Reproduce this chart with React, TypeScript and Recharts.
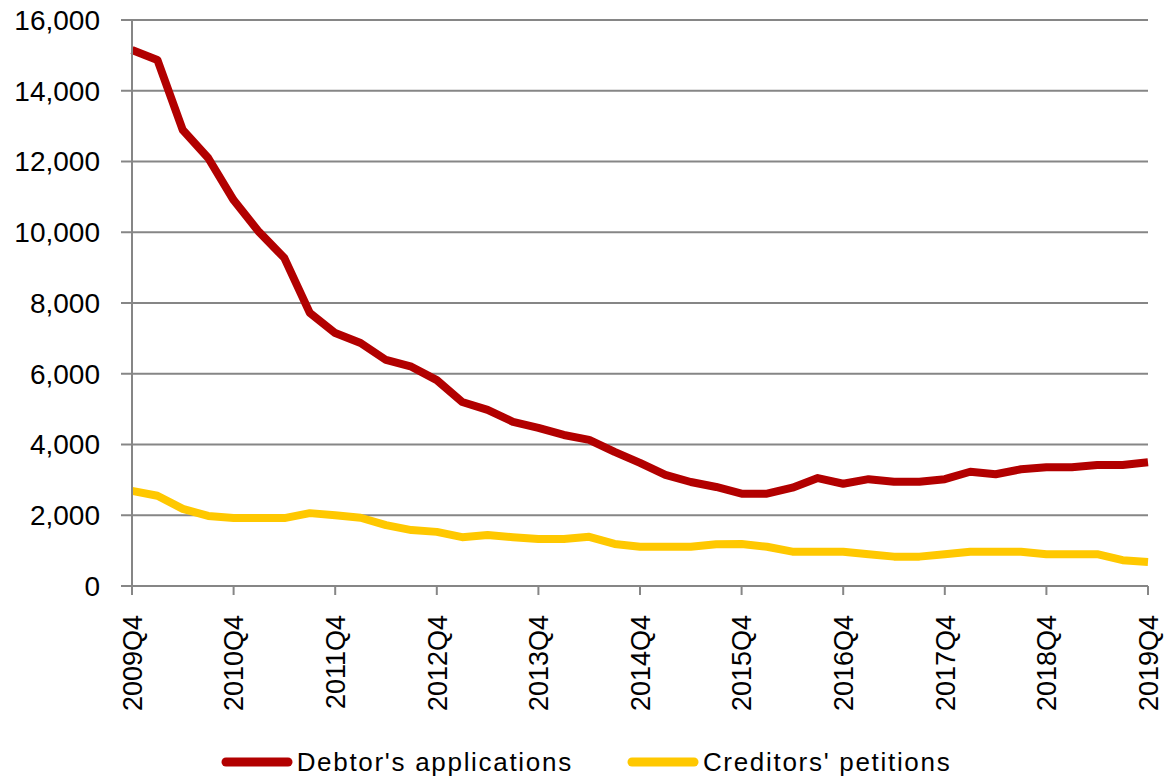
import { LineChart, Line, XAxis, YAxis, CartesianGrid, Legend } from "recharts";

const quarters = [
  "2009Q4",
  "2010Q1", "2010Q2", "2010Q3", "2010Q4",
  "2011Q1", "2011Q2", "2011Q3", "2011Q4",
  "2012Q1", "2012Q2", "2012Q3", "2012Q4",
  "2013Q1", "2013Q2", "2013Q3", "2013Q4",
  "2014Q1", "2014Q2", "2014Q3", "2014Q4",
  "2015Q1", "2015Q2", "2015Q3", "2015Q4",
  "2016Q1", "2016Q2", "2016Q3", "2016Q4",
  "2017Q1", "2017Q2", "2017Q3", "2017Q4",
  "2018Q1", "2018Q2", "2018Q3", "2018Q4",
  "2019Q1", "2019Q2", "2019Q3", "2019Q4",
];

const debtorApplications = [
  15150, 14870, 12890, 12100, 10910, 10010, 9270, 7720, 7150, 6870, 6390, 6200,
  5820, 5200, 4980, 4640, 4470, 4270, 4130, 3790, 3480, 3140, 2940, 2800, 2610,
  2610, 2780, 3050, 2890, 3020, 2950, 2950, 3020, 3230, 3160, 3300, 3360, 3360,
  3420, 3420, 3500,
];

const creditorPetitions = [
  2690, 2550, 2180, 1980, 1920, 1920, 1920, 2060, 2000, 1930, 1720, 1580, 1530,
  1380, 1440, 1380, 1330, 1330, 1390, 1190, 1110, 1110, 1110, 1180, 1190, 1110,
  970, 970, 970, 900, 830, 830, 900, 970, 970, 970, 900, 900, 900, 730, 680,
];

const yTicks = [0, 2000, 4000, 6000, 8000, 10000, 12000, 14000, 16000];

const RED = "#B20000";
const YELLOW = "#FFC800";
const GREY = "#868686";
const FONT = "'Liberation Sans', Arial, sans-serif";

const data = quarters.map((q, i) => ({
  q,
  debtor: debtorApplications[i],
  creditor: creditorPetitions[i],
}));

function QuarterTick({ x, y, payload }: any) {
  return (
    <text
      x={x}
      y={y}
      transform={`rotate(-90, ${x}, ${y})`}
      textAnchor="end"
      dy="0.36em"
      fontSize={27}
      fontFamily={FONT}
      fill="#000"
    >
      {payload.value}
    </text>
  );
}

function LegendContent() {
  const items = [
    { label: "Debtor's applications", color: RED },
    { label: "Creditors' petitions", color: YELLOW },
  ];
  return (
    <div style={{ display: "flex", justifyContent: "center", alignItems: "center", height: 50, paddingLeft: 24, paddingTop: 4 }}>
      {items.map((it, i) => (
        <div key={it.label} style={{ display: "flex", alignItems: "center", marginLeft: i ? 54 : 0 }}>
          <svg width={72} height={12} style={{ display: "block" }}>
            <line x1={5} y1={6} x2={67} y2={6} stroke={it.color} strokeWidth={9} strokeLinecap="round" />
          </svg>
          <span
            style={{
              fontFamily: FONT,
              fontSize: 26,
              letterSpacing: 1.7,
              color: "#000",
              marginLeft: 4,
              lineHeight: "30px",
            }}
          >
            {it.label}
          </span>
        </div>
      ))}
    </div>
  );
}

export default function App() {
  return (
    <div style={{ position: "absolute", left: 0, top: 0, width: 1171, height: 783, background: "#fff" }}>
      <LineChart width={1171} height={783} data={data} margin={{ top: 20, right: 23, left: 0, bottom: 0 }}>
        <CartesianGrid vertical={false} stroke={GREY} strokeWidth={2} />
        <XAxis
          dataKey="q"
          interval={3}
          height={147}
          tick={<QuarterTick />}
          tickSize={9}
          tickMargin={20}
          axisLine={{ stroke: GREY, strokeWidth: 2 }}
          tickLine={{ stroke: GREY, strokeWidth: 2 }}
        />
        <YAxis
          width={132}
          domain={[0, 16000]}
          ticks={yTicks}
          interval={0}
          tickFormatter={(v: number) => v.toLocaleString("en-US")}
          tickSize={11}
          tickMargin={21}
          tick={{ fontSize: 28, fontFamily: FONT, fill: "#000" }}
          axisLine={{ stroke: GREY, strokeWidth: 2 }}
          tickLine={{ stroke: GREY, strokeWidth: 2 }}
        />
        <Legend verticalAlign="bottom" height={50} content={<LegendContent />} />
        <Line
          type="linear"
          dataKey="debtor"
          name="Debtor's applications"
          stroke={RED}
          strokeWidth={8}
          strokeLinejoin="round"
          dot={false}
          activeDot={false}
          isAnimationActive={false}
        />
        <Line
          type="linear"
          dataKey="creditor"
          name="Creditors' petitions"
          stroke={YELLOW}
          strokeWidth={8}
          strokeLinejoin="round"
          dot={false}
          activeDot={false}
          isAnimationActive={false}
        />
      </LineChart>
    </div>
  );
}
